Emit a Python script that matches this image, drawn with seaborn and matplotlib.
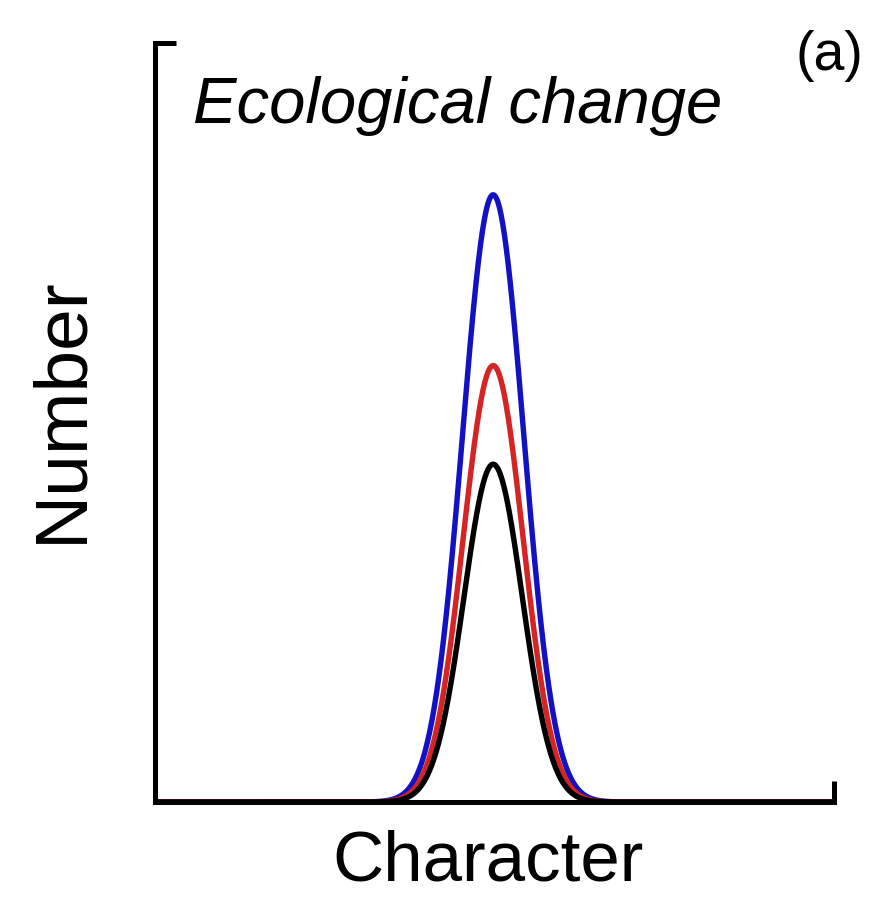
import numpy as np
import pandas as pd
import matplotlib
matplotlib.use("Agg")
import matplotlib.pyplot as plt
import seaborn as sns

# Trait distributions under ecological change (peak height, mean, spread)
series = ["blue", "red", "black"]
peaks = [0.80, 0.575, 0.445]
means = [4.98, 4.98, 4.98]
spreads = [0.45, 0.44, 0.43]
colors = ["#1212c4", "#d42424", "#000000"]

x_limits = [0.0, 10.0]
y_limits = [0.0, 1.0]

sns.set_theme(style="white")
plt.rcParams["font.family"] = ["Liberation Sans", "DejaVu Sans"]
plt.rcParams["text.color"] = "black"

grid = np.linspace(x_limits[0], x_limits[1], 1200)
frames = []
for name, h, mu, sd in zip(series, peaks, means, spreads):
    frames.append(pd.DataFrame({
        "character": grid,
        "number": h * np.exp(-0.5 * ((grid - mu) / sd) ** 2),
        "series": name,
    }))
df = pd.concat(frames, ignore_index=True)

fig = plt.figure(figsize=(8.72, 9.05), dpi=100)
ax = fig.add_axes([0.1778, 0.1138, 0.9564 - 0.1778, 0.9525 - 0.1138])

sns.lineplot(data=df, x="character", y="number", hue="series",
             hue_order=series, palette=dict(zip(series, colors)),
             linewidth=3.9, legend=False, ax=ax, sort=False)

ax.set_xlim(*x_limits)
ax.set_ylim(*y_limits)
for side in ["top", "right"]:
    ax.spines[side].set_visible(False)
for side in ["left", "bottom"]:
    ax.spines[side].set_color("black")
    ax.spines[side].set_linewidth(3.6)
    ax.spines[side].set_capstyle("projecting")

# Single inward tick at the far end of each axis
ax.set_xticks([x_limits[1]])
ax.set_yticks([y_limits[1]])
ax.tick_params(axis="both", direction="in", length=15, width=3.6,
               color="black", labelbottom=False, labelleft=False,
               bottom=True, left=True)

ax.set_xlabel("")
ax.set_ylabel("")
fig.text(488 / 872, 1 - 862 / 905, "Character", fontsize=51,
         ha="center", va="center", color="black")
fig.text(62 / 872, 1 - 410 / 905, "Number", fontsize=54, rotation=90,
         ha="center", va="center", color="black")
fig.text(193 / 872, 1 - 123 / 905, "Ecological change", fontsize=47,
         style="italic", ha="left", va="baseline", color="black")
fig.text(863 / 872, 1 - 70 / 905, "(a)", fontsize=40,
         ha="right", va="baseline", color="black")

fig.savefig("out.png", dpi=100, facecolor="white")
